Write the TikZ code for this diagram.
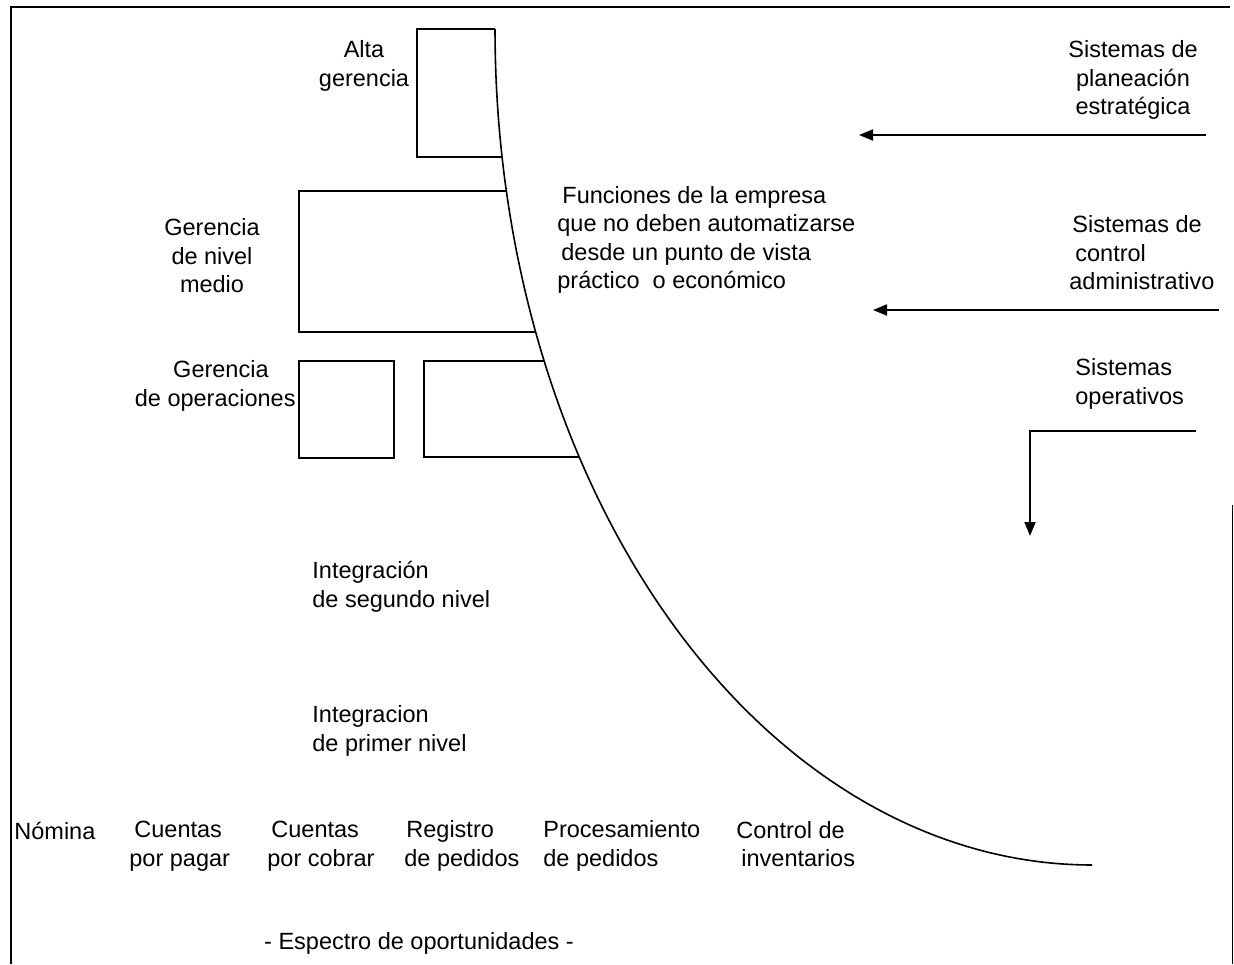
\documentclass[tikz,border=0pt]{standalone}
\usepackage{fontspec}
\setmainfont{Liberation Sans}
\usetikzlibrary{arrows.meta}
\begin{document}
\begin{tikzpicture}[x=0.5pt,y=-0.5pt,
  lbl/.style={inner sep=0pt, font=\fontsize{11.75}{14.25}\selectfont},
  boxline/.style={line width=0.65pt},
  frameline/.style={line width=0.7pt},
  curveline/.style={line width=0.8pt},
  arr/.style={line width=0.9pt, -{Triangle[length=7pt,width=5.5pt]}}]
\useasboundingbox (0,0) rectangle (1234,964);
% page frame
\draw[frameline] (1230,7) -- (11,7) -- (11,964);
\draw[line width=0.5pt] (1232,505) -- (1232,964);
% boundary curve
\draw[curveline] plot[smooth, domain=180:270, samples=90] ({1092+597*cos(\x)}, {29-836*sin(\x)});
% boxes (right sides follow the curve)
\draw[boxline] (495,29) -- (417,29) -- (417,157) -- (502,157);
\draw[boxline] (506.3,191) -- (299,191) -- (299,332) -- (535.6,332);
\draw[boxline] (299,361) rectangle (394,458);
\draw[boxline] (544.1,361) -- (424,361) -- (424,457) -- (579.2,457);
% labels
\node[lbl, align=center] (alta) at (364,66) {Alta\\gerencia};
\node[lbl, align=center] (media) at (212,256) {Gerencia\\de nivel\\medio};
\node[lbl, align=right, anchor=east] (oper) at (296,386) {Gerencia\hspace*{13.5pt}\\de operaciones};
\node[lbl, align=left, anchor=west] (func) at (557,240) {\hspace*{2.5pt}Funciones de la empresa\\que no deben automatizarse\\\hspace*{2pt}desde un punto de vista\\práctico\ \ o económico};
\node[lbl, align=center] (plan) at (1133,80) {Sistemas de\\planeación\\estratégica};
\node[lbl, align=left, anchor=west] (ctrl) at (1069,253) {\hspace*{1.5pt}Sistemas de\\\hspace*{3pt}control\\administrativo};
\node[lbl, align=left, anchor=west] (oprs) at (1075,384) {Sistemas\\operativos};
\node[lbl, align=left, anchor=west] (int2) at (312,587) {Integración\\de segundo nivel};
\node[lbl, align=left, anchor=west] (int1) at (312,731) {Integracion\\de primer nivel};
\node[lbl, anchor=west] (nom) at (14,831) {Nómina};
\node[lbl, align=left, anchor=west] (cpp) at (129,846) {\hspace*{2.5pt}Cuentas\\por pagar};
\node[lbl, align=left, anchor=west] (cpc) at (267,846) {\hspace*{2pt}Cuentas\\por cobrar};
\node[lbl, align=left, anchor=west] (reg) at (404,846) {\hspace*{1pt}Registro\\de pedidos};
\node[lbl, align=left, anchor=west] (proc) at (543,846) {Procesamiento\\de pedidos};
\node[lbl, align=left, anchor=west] (inv) at (736,844) {Control de\\\hspace*{2.5pt}inventarios};
\node[lbl] (esp) at (419,943) {- Espectro de oportunidades -};
% arrows
\coordinate (a1s) at (1206,135);
\coordinate (a1e) at (859,135);
\coordinate (a2s) at (1219,310);
\coordinate (a2e) at (873,310);
\coordinate (a3s) at (1196,431);
\coordinate (a3m) at (1030,431);
\coordinate (a3e) at (1030,536);
\draw[arr] (a1s) -- (a1e);
\draw[arr] (a2s) -- (a2e);
\draw[arr] (a3s) -- (a3m) -- (a3e);
\end{tikzpicture}
\end{document}
